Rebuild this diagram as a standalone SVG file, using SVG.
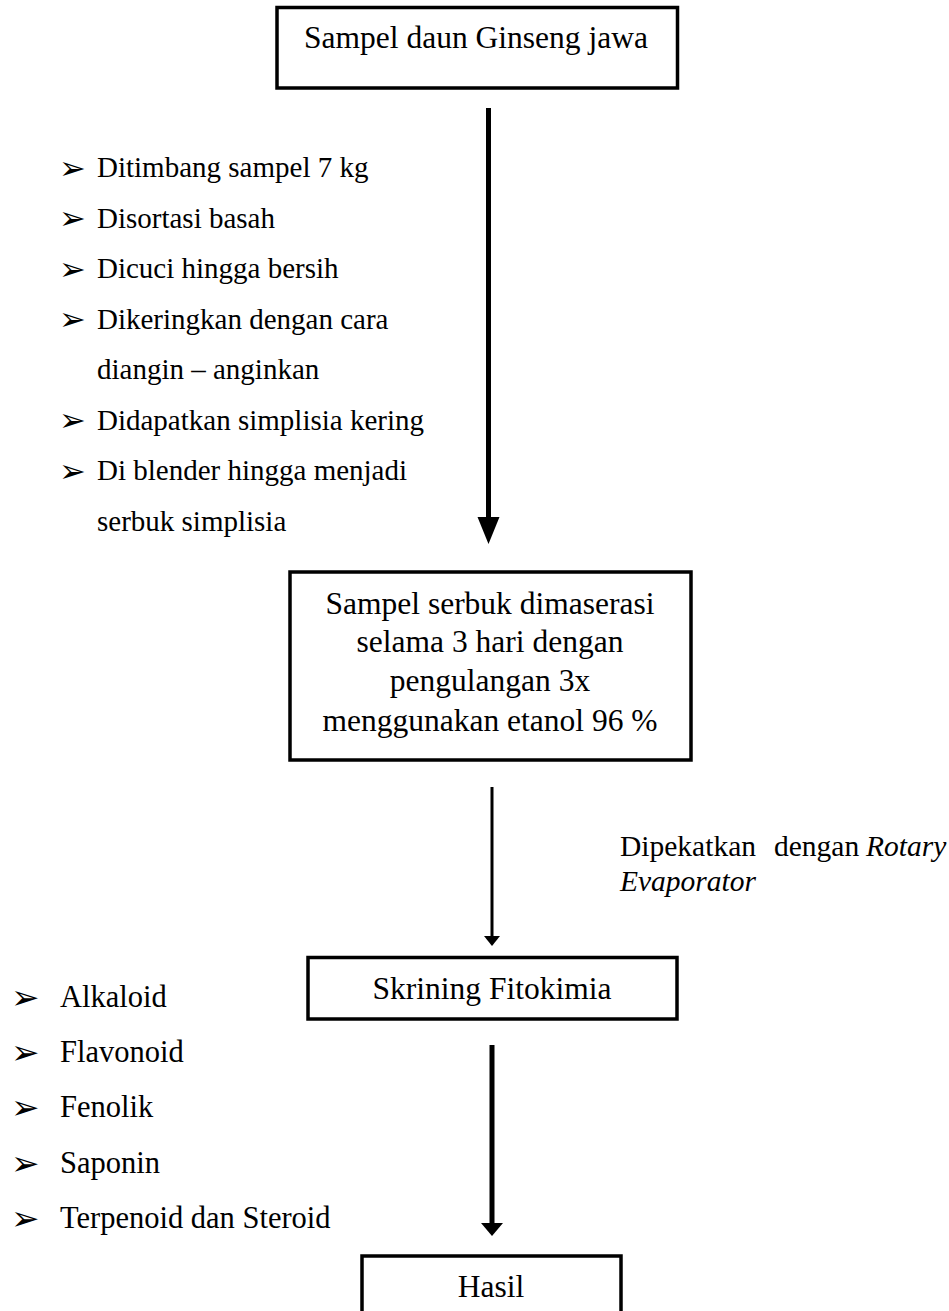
<svg xmlns="http://www.w3.org/2000/svg" width="949" height="1311" viewBox="0 0 949 1311">
<style>
.box{fill:#fff;stroke:#000;stroke-width:3.5}
.t{font-family:"Liberation Serif","Times New Roman",serif;fill:#000}
.bt{font-size:31.5px;text-anchor:middle}
.l1{font-size:29px}
.l2{font-size:30.5px}
.bu{font-family:"DejaVu Sans",sans-serif;fill:#000}
.sh{stroke:#000;fill:none}
.hd{fill:#000;stroke:none}
</style>
<rect width="949" height="1311" fill="#fff"/>
<g id="connectors">
<line class="sh" x1="488.5" y1="108" x2="488.5" y2="520" stroke-width="5"/>
<polygon class="hd" points="477.5,517 499.5,517 488.5,544"/>
<line class="sh" x1="492" y1="787" x2="492" y2="938" stroke-width="3"/>
<polygon class="hd" points="484,936 500,936 492,946"/>
<line class="sh" x1="492" y1="1045" x2="492" y2="1225" stroke-width="5"/>
<polygon class="hd" points="481,1223 503,1223 492,1236"/>
</g>
<g id="node-sampel-daun">
<rect class="box" x="277" y="7.5" width="400.5" height="80.5"/>
<text class="t bt" x="476" y="47.5">Sampel daun Ginseng jawa</text>
</g>
<g id="list-preparasi">
<g class="bu" font-size="32">
<text x="59" y="178.5">➢</text>
<text x="59" y="229">➢</text>
<text x="59" y="279.5">➢</text>
<text x="59" y="330">➢</text>
<text x="59" y="431">➢</text>
<text x="59" y="481.5">➢</text>
</g>
<g class="t l1">
<text x="97" y="177">Ditimbang sampel 7 kg</text>
<text x="97" y="227.5">Disortasi basah</text>
<text x="97" y="278">Dicuci hingga bersih</text>
<text x="97" y="328.5">Dikeringkan dengan cara</text>
<text x="97" y="379">diangin – anginkan</text>
<text x="97" y="429.5">Didapatkan simplisia kering</text>
<text x="97" y="480">Di blender hingga menjadi</text>
<text x="97" y="530.5">serbuk simplisia</text>
</g>
</g>
<g id="node-maserasi">
<rect class="box" x="290" y="572" width="401" height="188"/>
<text class="t bt" x="490" y="613.5">Sampel serbuk dimaserasi</text>
<text class="t bt" x="490" y="652">selama 3 hari dengan</text>
<text class="t bt" x="490" y="690.5">pengulangan 3x</text>
<text class="t bt" x="490" y="731">menggunakan etanol 96 %</text>
</g>
<g id="label-pekat" class="t" font-size="29.5px">
<text x="620" y="856">Dipekatkan</text>
<text x="774" y="856">dengan</text>
<text x="866" y="856" font-style="italic">Rotary</text>
<text x="620" y="891" font-style="italic">Evaporator</text>
</g>
<g id="node-skrining">
<rect class="box" x="308" y="957.5" width="369" height="61.5"/>
<text class="t bt" x="492" y="999">Skrining Fitokimia</text>
</g>
<g id="list-senyawa">
<g class="bu" font-size="34">
<text x="11" y="1009">➢</text>
<text x="11" y="1064">➢</text>
<text x="11" y="1119">➢</text>
<text x="11" y="1174.5">➢</text>
<text x="11" y="1229.5">➢</text>
</g>
<g class="t l2">
<text x="60" y="1007">Alkaloid</text>
<text x="60" y="1062">Flavonoid</text>
<text x="60" y="1117">Fenolik</text>
<text x="60" y="1172.5">Saponin</text>
<text x="60" y="1227.5">Terpenoid dan Steroid</text>
</g>
</g>
<g id="node-hasil">
<rect class="box" x="362" y="1256" width="259" height="70"/>
<text class="t bt" x="491" y="1297">Hasil</text>
</g>
</svg>
